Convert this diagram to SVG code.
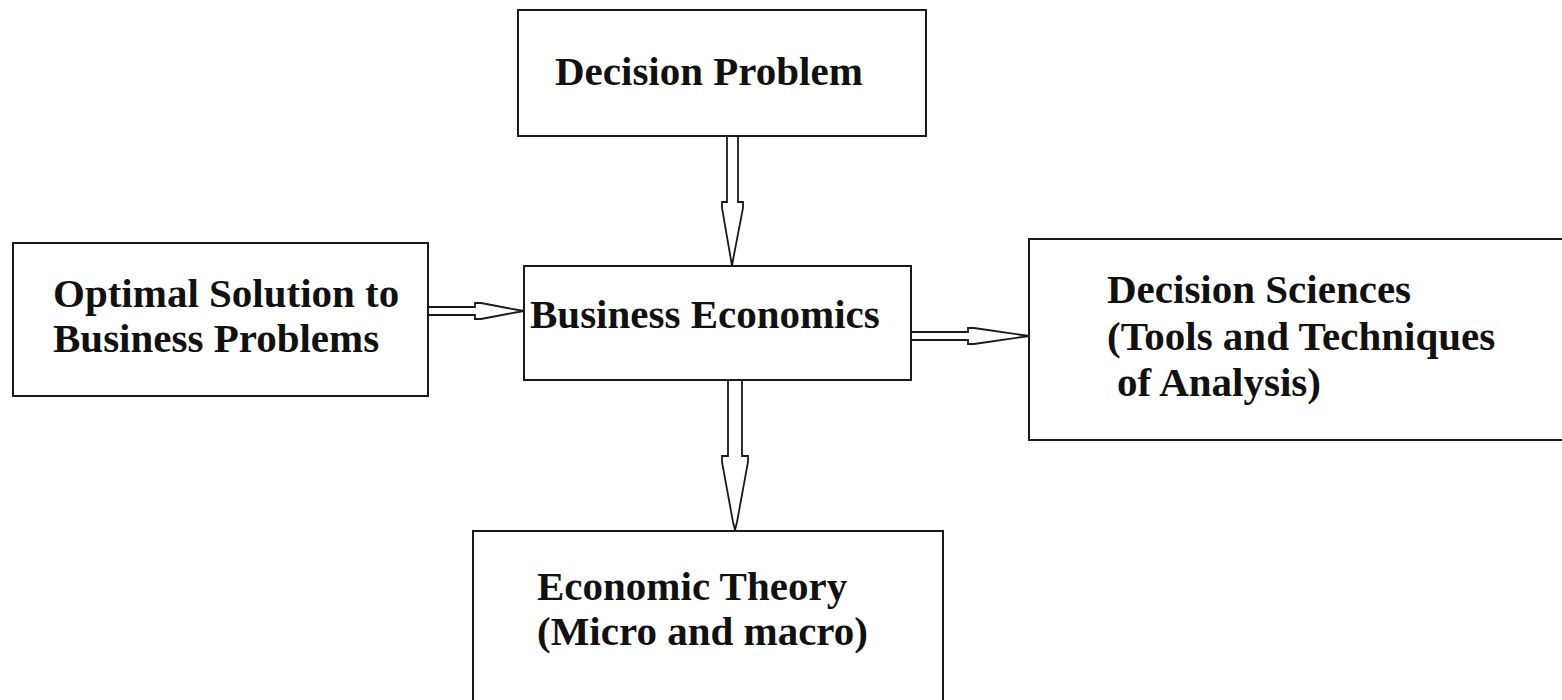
<svg xmlns="http://www.w3.org/2000/svg" width="1562" height="700" viewBox="0 0 1562 700">
<style>
.box{fill:#fff;stroke:#1a1a1a;stroke-width:2}
.arr{fill:#fff;stroke:#1a1a1a;stroke-width:1.8;stroke-linejoin:miter}
.t{font-family:"Liberation Serif","Times New Roman",serif;font-weight:bold;font-size:41px;fill:#111}
</style>
<rect width="1562" height="700" fill="#fff"/>
<g id="connectors">
<polygon class="arr" points="727,136 727,202 722,202 722,208 731,260 732,266 733,260 743,208 743,202 738,202 738,136"/>
<polygon class="arr" points="428,307 475,307 475,303 481,303 518,310 524,311 518,312 481,319 475,319 475,315 428,315"/>
<polygon class="arr" points="911,332 968,332 968,328 974,328 1022,335 1029,336 1022,337 974,344 968,344 968,340 911,340"/>
<polygon class="arr" points="728,380 728,456 722,456 722,462 733,522 735,530 737,522 748,462 748,456 742,456 742,380"/>
</g>
<g id="decision-problem">
<rect class="box" x="518" y="10" width="408" height="126"/>
<text class="t" x="555" y="85">Decision Problem</text>
</g>
<g id="optimal-solution">
<rect class="box" x="13" y="243" width="415" height="153"/>
<text class="t" x="53" y="307">Optimal Solution to</text>
<text class="t" x="53" y="352">Business Problems</text>
</g>
<g id="business-economics">
<rect class="box" x="524" y="266" width="387" height="114"/>
<text class="t" x="530" y="328">Business Economics</text>
</g>
<g id="decision-sciences">
<rect class="box" x="1029" y="239" width="540" height="201"/>
<text class="t" x="1107" y="303">Decision Sciences</text>
<text class="t" x="1107" y="350">(Tools and Techniques</text>
<text class="t" x="1117" y="396">of Analysis)</text>
</g>
<g id="economic-theory">
<rect class="box" x="473" y="531" width="470" height="180"/>
<text class="t" x="537" y="600">Economic Theory</text>
<text class="t" x="537" y="645">(Micro and macro)</text>
</g>
</svg>
